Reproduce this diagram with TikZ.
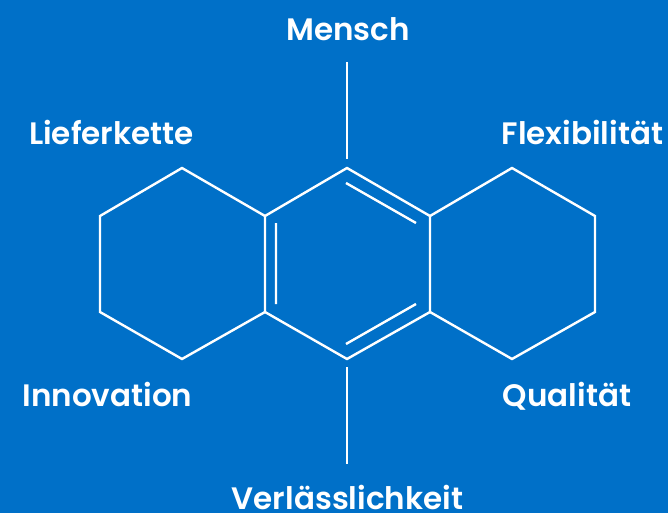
\documentclass[tikz,border=0pt]{standalone}
\usepackage{fontspec}
\setmainfont{Poppins SemiBold}
\definecolor{bgblue}{RGB}{0,112,200}
\tikzset{bond/.style={draw=white,line width=2.4pt,line join=miter},
lab/.style={text=white,font=\fontsize{31}{33}\selectfont,inner sep=0pt,anchor=base}}
\begin{document}
\begin{tikzpicture}[x=1pt,y=-1pt]
\useasboundingbox[fill=bgblue] (0,0) rectangle (668,513);
\coordinate (a1) at (347,168);
\coordinate (a2) at (430,216);
\coordinate (a3) at (430,312);
\coordinate (a4) at (347,359);
\coordinate (a5) at (265,312);
\coordinate (a6) at (265,216);
\coordinate (l1) at (182,168);
\coordinate (l2) at (100,216);
\coordinate (l3) at (100,312);
\coordinate (l4) at (182,359);
\coordinate (r1) at (512,168);
\coordinate (r2) at (595,216);
\coordinate (r3) at (595,312);
\coordinate (r4) at (512,359);
\draw[bond] (a1)--(a2)--(a3)--(a4)--(a5)--(a6)--cycle;
\draw[bond] (a6)--(l1)--(l2)--(l3)--(l4)--(a5);
\draw[bond] (a2)--(r1)--(r2)--(r3)--(r4)--(a3);
\coordinate (d1a) at (346,183);\coordinate (d1b) at (416,223);
\coordinate (d2a) at (416,304);\coordinate (d2b) at (346,344);
\coordinate (d3a) at (276,223);\coordinate (d3b) at (276,304);
\draw[bond] (d1a)--(d1b) (d2a)--(d2b) (d3a)--(d3b);
\coordinate (t1) at (347,62);\coordinate (t2) at (347,159);
\coordinate (b1) at (347,367);\coordinate (b2) at (347,464);
\draw[bond] (t1)--(t2) (b1)--(b2);
\node[lab] (m) at (348,41) {Mensch};
\node[lab] (lk) at (111.5,145) {Lieferkette};
\node[lab] (fx) at (582.5,145) {Flexibilität};
\node[lab] (in) at (107.5,406) {Innovation};
\node[lab] (qu) at (567,406) {Qualität};
\node[lab] (ve) at (347.5,509) {Verlässlichkeit};
\end{tikzpicture}
\end{document}
